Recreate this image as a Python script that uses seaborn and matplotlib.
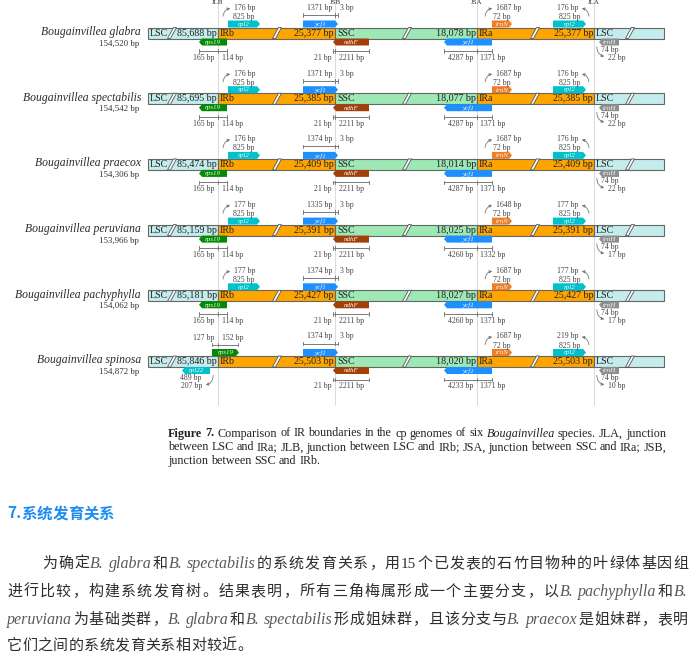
import numpy as np
import pandas as pd
import matplotlib
matplotlib.use("Agg")
import matplotlib.pyplot as plt
import seaborn as sns
from matplotlib.patches import Polygon, Rectangle, FancyArrowPatch

# ---- data ----
species = ["Bougainvillea glabra", "Bougainvillea spectabilis", "Bougainvillea praecox",
           "Bougainvillea peruviana", "Bougainvillea pachyphylla", "Bougainvillea spinosa"]
genome_bp = ["154,520", "154,542", "154,306", "153,966", "154,062", "154,872"]
lsc_bp = ["85,688", "85,695", "85,474", "85,159", "85,181", "85,846"]
irb_bp = ["25,377", "25,385", "25,409", "25,391", "25,427", "25,503"]
ssc_bp = ["18,078", "18,077", "18,014", "18,025", "18,027", "18,020"]
ira_bp = irb_bp
ycf1_jsb = [1371, 1371, 1374, 1335, 1374, 1374]
ycf1_jsa_ssc = [4287, 4287, 4287, 4260, 4260, 4233]
ycf1_jsa_ira = [1371, 1371, 1371, 1332, 1371, 1371]
trnN_gap = [1687, 1687, 1687, 1648, 1687, 1687]
rpl2_irb_gap = [176, 176, 176, 177, 177, None]
rpl2_ira_gap = [176, 176, 176, 177, 177, 219]
trnH_gap = [22, 22, 22, 17, 17, 10]
rps19_split = (165, 114)
spinosa_rps19 = (127, 152)
spinosa_rpl22 = (489, 207)
ndhF_split = (21, 2211)
junctions = ["JLB", "JSB", "JSA", "JLA"]

sns.set_theme(style="white")
plt.rcParams['font.family'] = ['Liberation Serif', 'DejaVu Serif']

W, H = 693, 661
fig = plt.figure(figsize=(W / 100, H / 100), dpi=100)
ax = fig.add_axes([0, 0, 1, 1])
ax.set_xlim(0, W)
ax.set_ylim(H, 0)
ax.axis('off')

# layout (pixels)
X0, JLB, JSB, JSA, JLA, X1 = 148, 218, 335, 477, 594, 664
c_lsc, c_ir, c_ssc = '#c4ecec', '#ffa500', '#9de8b4'
c_rpl2, c_ycf1, c_rps19, c_ndhf, c_trnn, c_trnh = '#00c2cc', '#1e8fff', '#048a04', '#a3400a', '#ef7d24', '#8e8e8e'
grey = '#7a7a7a'
small = 5.6

for jx, jn in zip([JLB, JSB, JSA, JLA], junctions):
    ax.plot([jx, jx], [0, 405], color='#dcdcdc', lw=0.8, zorder=0)
    ax.text(jx, 2.4, jn, ha='center', va='center', fontsize=5, color='#333')


def gene(xs, xe, yt, color, name, right=True, h=7):
    tip = 3
    if right:
        pts = [(xs, yt), (xe - tip, yt), (xe, yt + h / 2), (xe - tip, yt + h), (xs, yt + h)]
    else:
        pts = [(xe, yt), (xs + tip, yt), (xs, yt + h / 2), (xs + tip, yt + h), (xe, yt + h)]
    ax.add_patch(Polygon(pts, closed=True, fc=color, ec='none', zorder=3))
    ax.text((xs + xe) / 2, yt + h / 2 + 0.3, name, ha='center', va='center', fontsize=5,
            style='italic', color='#f4f4f4', zorder=4)


def ruler(xs, xe, y, mid=None):
    ax.plot([xs, xe], [y, y], color=grey, lw=0.7)
    for t in [xs, xe] + ([mid] if mid is not None else []):
        ax.plot([t, t], [y - 1.8, y + 1.8], color=grey, lw=0.7)


def curl(p0, p1, rad):
    ax.add_patch(FancyArrowPatch(p0, p1, connectionstyle=f"arc3,rad={rad}", arrowstyle='-|>',
                                 mutation_scale=4, lw=0.6, color=grey))


def note(x, y, s, ha='center'):
    ax.text(x, y, s, ha=ha, va='center', fontsize=small, color='#444')


def slash(sx, top, bot):
    ax.add_patch(Polygon([(sx - 4.5, bot), (sx - 1.5, bot), (sx + 4.5, top), (sx + 1.5, top)],
                         closed=True, fc='white', ec='#555', lw=0.6, zorder=2))


for i, sp in enumerate(species):
    cy = 33 + 65.7 * i
    top, bot = cy - 5.5, cy + 5.5
    segs = [(X0, JLB, c_lsc), (JLB, JSB, c_ir), (JSB, JSA, c_ssc), (JSA, JLA, c_ir), (JLA, X1, c_lsc)]
    for xs, xe, col in segs:
        ax.add_patch(Rectangle((xs, top), xe - xs, bot - top, fc=col, ec='#666', lw=0.8, zorder=1))
    for sx in [172, 277, 407, 535, 630]:
        slash(sx, top, bot)
    fs = 7.2
    ax.text(X0 + 2, cy, "LSC", ha='left', va='center', fontsize=fs, color='#222', zorder=3)
    ax.text(JLB - 1, cy, f"{lsc_bp[i]} bp", ha='right', va='center', fontsize=fs, color='#222', zorder=3)
    ax.text(JLB + 2, cy, "IRb", ha='left', va='center', fontsize=fs, color='#222', zorder=3)
    ax.text(JSB - 1, cy, f"{irb_bp[i]} bp", ha='right', va='center', fontsize=fs, color='#222', zorder=3)
    ax.text(JSB + 2, cy, "SSC", ha='left', va='center', fontsize=fs, color='#222', zorder=3)
    ax.text(JSA - 1, cy, f"{ssc_bp[i]} bp", ha='right', va='center', fontsize=fs, color='#222', zorder=3)
    ax.text(JSA + 2, cy, "IRa", ha='left', va='center', fontsize=fs, color='#222', zorder=3)
    ax.text(JLA - 1, cy, f"{ira_bp[i]} bp", ha='right', va='center', fontsize=fs, color='#222', zorder=3)
    ax.text(JLA + 2, cy, "LSC", ha='left', va='center', fontsize=fs, color='#222', zorder=3)

    ax.text(141, cy - 1, sp, ha='right', va='center', fontsize=8.4, style='italic', color='#2a2a2a')
    ax.text(139, cy + 10.5, f"{genome_bp[i]} bp", ha='right', va='center', fontsize=6.4, color='#333')

    # JLB
    if rpl2_irb_gap[i] is not None:
        gene(228, 260, top - 7, c_rpl2, "rpl2", right=True)
        note(244, cy - 16, "825 bp")
        curl((223, cy - 14), (233, cy - 25), -0.5)
        note(234, cy - 25, f"{rpl2_irb_gap[i]} bp", ha='left')
        gene(199, 227, bot, c_rps19, "rps19", right=False)
        ruler(199, 227, cy + 18, JLB)
        note(JLB - 4, cy + 25, f"{rps19_split[0]} bp", ha='right')
        note(JLB + 4, cy + 25, f"{rps19_split[1]} bp", ha='left')
    else:
        gene(212, 239, top - 7, c_rps19, "rps19", right=True)
        ruler(212, 238, cy - 17, JLB)
        note(JLB - 4, cy - 24, f"{spinosa_rps19[0]} bp", ha='right')
        note(JLB + 4, cy - 24, f"{spinosa_rps19[1]} bp", ha='left')
        gene(182, 210, bot, c_rpl2, "rpl22", right=False)
        note(191, cy + 17, f"{spinosa_rpl22[0]} bp")
        curl((213, cy + 11), (203, cy + 24), -0.5)
        note(202, cy + 25, f"{spinosa_rpl22[1]} bp", ha='right')

    # JSB
    gene(303, 338, top - 7, c_ycf1, "ycf1", right=True)
    ruler(303, 335, cy - 18)
    ruler(335, 338, cy - 18)
    note(JSB - 3, cy - 25, f"{ycf1_jsb[i]} bp", ha='right')
    note(JSB + 5, cy - 25, "3 bp", ha='left')
    gene(333, 369, bot, c_ndhf, "ndhF", right=False)
    ruler(333, 369, cy + 18, JSB)
    note(JSB - 4, cy + 25, f"{ndhF_split[0]} bp", ha='right')
    note(JSB + 4, cy + 25, f"{ndhF_split[1]} bp", ha='left')

    # JSA
    gene(444, 492, bot, c_ycf1, "ycf1", right=False)
    ruler(444, 492, cy + 18, JSA)
    note(JSA - 4, cy + 25, f"{ycf1_jsa_ssc[i]} bp", ha='right')
    note(JSA + 3, cy + 25, f"{ycf1_jsa_ira[i]} bp", ha='left')
    gene(492, 512, top - 7, c_trnn, "trnN", right=True)
    note(502, cy - 16, "72 bp")
    curl((485, cy - 14), (495, cy - 25), -0.5)
    note(496, cy - 25, f"{trnN_gap[i]} bp", ha='left')

    # JLA
    gene(553, 586, top - 7, c_rpl2, "rpl2", right=True)
    note(570, cy - 16, "825 bp")
    curl((589, cy - 14), (579, cy - 25), 0.5)
    note(578, cy - 25, f"{rpl2_ira_gap[i]} bp", ha='right')
    gene(599, 619, bot, c_trnh, "trnH", right=False)
    note(601, cy + 17, "74 bp", ha='left')
    curl((597, cy + 11), (607, cy + 24), 0.5)
    note(608, cy + 25, f"{trnH_gap[i]} bp", ha='left')


# ---- text blocks (caption + Chinese paragraph) ----
fig.canvas.draw()
renderer = fig.canvas.get_renderer()


def text_w(s, kw):
    t = ax.text(0, 0, s, **kw)
    w = t.get_window_extent(renderer).width
    t.remove()
    return w


def split_units(runs):
    units, gap = [], False
    for s, kw in runs:
        buf, bgap = '', False
        for ch in s:
            if ch == ' ':
                if buf:
                    units.append((buf, kw, bgap))
                    buf = ''
                gap = True
            elif ord(ch) > 0x2E80:
                if buf:
                    units.append((buf, kw, bgap))
                    buf = ''
                units.append((ch, kw, gap))
                gap = False
            else:
                if not buf:
                    bgap, gap = gap, False
                buf += ch
        if buf:
            units.append((buf, kw, bgap))
    return units


def draw_line(runs, x, y, right=None):
    units = split_units(runs)
    widths = [text_w(u, kw) for u, kw, _ in units]
    gaps = [0.0] + [(text_w('x x', kw) - text_w('xx', kw)) if g else 0.0 for _, kw, g in units[1:]]
    n = len(units)
    natural = sum(widths) + sum(gaps)
    add = (right - x - natural) / (n - 1) if (right is not None and n > 1) else 0.0
    cx = x
    for k, (u, kw, _) in enumerate(units):
        if k > 0:
            cx += gaps[k] + add
        ax.text(cx, y, u, ha='left', va='baseline', **kw)
        cx += widths[k]


cap = dict(fontsize=8.7, color='#222', family=['Liberation Serif'])
cap_b = dict(cap, weight='bold')
cap_i = dict(cap, style='italic')
draw_line([("Figure 7.", cap_b), (" Comparison of IR boundaries in the cp genomes of six ", cap),
           ("Bougainvillea", cap_i), (" species. JLA, junction", cap)], 168, 436.5, right=666)
draw_line([("between LSC and IRa; JLB, junction between LSC and IRb; JSA, junction between SSC and IRa; JSB,", cap)],
          168, 450.5, right=666)
draw_line([("junction between SSC and IRb.", cap)], 168, 464)

head = dict(fontsize=11.2, color='#1e8cf0', weight='bold', family=['Noto Sans CJK SC'])
draw_line([("7.系统发育关系", head)], 7, 518.5)

cjk = dict(fontsize=10.8, color='#2e2e2e', family=['Noto Sans CJK SC'])
ital = dict(fontsize=11.5, color='#5a5a5a', style='italic', family=['Liberation Serif'])
num = dict(fontsize=11, color='#2e2e2e', family=['Liberation Serif'])
draw_line([("为确定", cjk), ("B. glabra", ital), ("和", cjk), ("B. spectabilis", ital),
           ("的系统发育关系，用", cjk), ("15", num), ("个已发表的石竹目物种的叶绿体基因组", cjk)],
          42, 568, right=688)
draw_line([("进行比较，构建系统发育树。结果表明，所有三角梅属形成一个主要分支，以", cjk),
           ("B. pachyphylla", ital), ("和", cjk), ("B.", ital)], 7, 596, right=688)
draw_line([("peruviana", ital), ("为基础类群，", cjk), ("B. glabra", ital), ("和", cjk),
           ("B. spectabilis", ital), ("形成姐妹群，且该分支与", cjk), ("B. praecox", ital),
           ("是姐妹群，表明", cjk)], 7, 624, right=688)
draw_line([("它们之间的系统发育关系相对较近。", cjk)], 7, 650, right=252)

fig.savefig("out.png", dpi=100)
